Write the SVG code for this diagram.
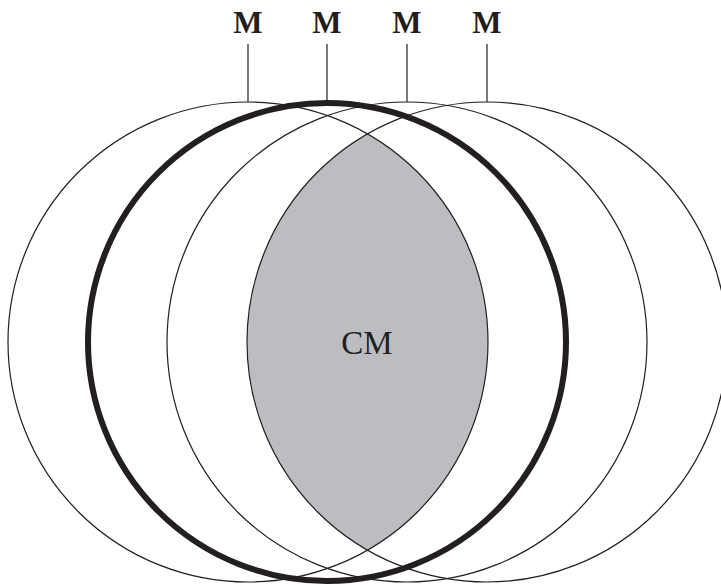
<svg xmlns="http://www.w3.org/2000/svg" width="721" height="585" viewBox="0 0 721 585">
<style>
.c{fill:none;stroke:#231f20;stroke-width:1.2}
.t{fill:none;stroke:#231f20;stroke-width:6}
.l{stroke:#231f20;stroke-width:1.2}
.m{font-family:"Liberation Serif",serif;font-weight:bold;font-size:31px;fill:#231f20;text-anchor:middle}
.cm{font-family:"Liberation Serif",serif;font-size:33px;fill:#231f20;text-anchor:middle}
</style>
<defs>
<clipPath id="c1"><circle cx="248" cy="342" r="240"/></clipPath>
</defs>
<rect width="721" height="585" fill="#fff"/>
<g id="lens">
<circle cx="487" cy="342" r="240" fill="#bcbdc0" clip-path="url(#c1)"/>
</g>
<g id="circle1"><circle class="c" cx="248" cy="342" r="240"/></g>
<g id="circle3"><circle class="c" cx="407" cy="342" r="240"/></g>
<g id="circle4"><circle class="c" cx="487" cy="342" r="240"/></g>
<g id="circle2"><circle class="t" cx="327" cy="342" r="239"/></g>
<g id="connectors">
<line class="l" x1="248" y1="44" x2="248" y2="102"/>
<line class="l" x1="327" y1="44" x2="327" y2="101"/>
<line class="l" x1="407" y1="44" x2="407" y2="102"/>
<line class="l" x1="487" y1="44" x2="487" y2="102"/>
</g>
<g id="labels">
<text class="m" x="248" y="33">M</text>
<text class="m" x="327" y="33">M</text>
<text class="m" x="407" y="33">M</text>
<text class="m" x="487" y="33">M</text>
<text class="cm" x="367" y="354">CM</text>
</g>
</svg>
